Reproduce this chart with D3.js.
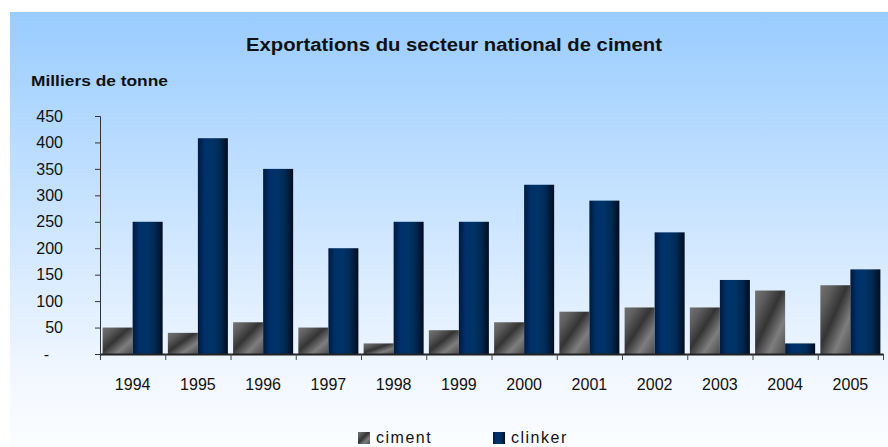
<!DOCTYPE html>
<html><head><meta charset="utf-8">
<script src="https://cdn.jsdelivr.net/npm/d3@7"></script>
<style>
html,body{margin:0;padding:0;background:#fff;}
svg text{font-family:"Liberation Sans",Arial,sans-serif;fill:#111;}
</style></head>
<body><svg id="c" width="888" height="447"></svg>
<script>
const years = ["1994","1995","1996","1997","1998","1999","2000","2001","2002","2003","2004","2005"];
const ciment = [50,40,60,50,20,45,60,80,88,88,120,130];
const clinker = [250,408,350,200,250,250,320,290,230,140,20,160];
const seriesNames = ["ciment","clinker"];
const yTicks = [0,50,100,150,200,250,300,350,400,450];
const yTickLabels = ["-","50","100","150","200","250","300","350","400","450"];
const titleText = "Exportations du secteur national de ciment";
const unitText = "Milliers de tonne";

(function(){
const svg = d3.select("#c");
const defs = svg.append("defs");

const bg = defs.append("linearGradient").attr("id","bg").attr("x1",0).attr("y1",0).attr("x2",0).attr("y2",1);
bg.append("stop").attr("offset",0).attr("stop-color","#99ccff");
bg.append("stop").attr("offset",0.85).attr("stop-color","#f3f8ff");
bg.append("stop").attr("offset",1).attr("stop-color","#fbfdff");

const gC = defs.append("linearGradient").attr("id","gCiment").attr("x1",0).attr("y1",0).attr("x2",1).attr("y2",1);
[[0,"#727272"],[0.2,"#5e5e5e"],[0.45,"#343434"],[0.72,"#7e7e7e"],[1,"#4a4a4a"]].forEach(s=>gC.append("stop").attr("offset",s[0]).attr("stop-color",s[1]));

const gK = defs.append("linearGradient").attr("id","gClinker").attr("x1",0).attr("y1",0).attr("x2",1).attr("y2",0);
[[0,"#001a3d"],[0.22,"#00306a"],[0.5,"#003366"],[0.72,"#002a55"],[1,"#000c1e"]].forEach(s=>gK.append("stop").attr("offset",s[0]).attr("stop-color",s[1]));

const fills = ["url(#gCiment)","url(#gClinker)"];

svg.append("rect").attr("x",10).attr("y",12).attr("width",878).attr("height",435).attr("fill","url(#bg)");

svg.append("text").attr("x",454).attr("y",51).attr("text-anchor","middle")
  .attr("font-size",18).attr("font-weight","bold")
  .attr("textLength",416).attr("lengthAdjust","spacingAndGlyphs").text(titleText);

svg.append("text").attr("x",31).attr("y",86)
  .attr("font-size",15).attr("font-weight","bold")
  .attr("textLength",137).attr("lengthAdjust","spacingAndGlyphs").text(unitText);

const mLeft = 100, mRight = 883, mTop = 116, mBottom = 354;
const y = d3.scaleLinear().domain([0,450]).range([mBottom, mTop]);
const x0 = d3.scaleBand().domain(years).range([mLeft,mRight]).paddingInner(0.08).paddingOuter(0.04);
const x1 = d3.scaleBand().domain(seriesNames).range([0,x0.bandwidth()]).padding(0);
const xb = d3.scaleLinear().domain([0,years.length]).range([mLeft,mRight]);

const data = years.map((yr,i)=>({year:yr, vals:[ciment[i],clinker[i]]}));
const groups = svg.append("g").selectAll("g").data(data).join("g")
  .attr("transform",d=>`translate(${x0(d.year)},0)`);
groups.selectAll("rect").data(d=>d.vals.map((v,j)=>({v,j}))).join("rect")
  .attr("x",d=>x1(seriesNames[d.j])).attr("width",x1.bandwidth())
  .attr("y",d=>y(d.v)).attr("height",d=>y(0)-y(d.v))
  .attr("fill",d=>fills[d.j]);

const yAxis = svg.append("g").attr("transform",`translate(${mLeft},0)`)
  .call(d3.axisLeft(y).tickValues(yTicks).tickFormat((d,i)=>yTickLabels[i]).tickSize(5).tickPadding(32));
yAxis.selectAll("path,line").attr("stroke","#333");
yAxis.selectAll("text").attr("font-size",16).attr("fill","#111").style("font-family","Liberation Sans, Arial, sans-serif")
  .attr("dx",(d)=> d===0 ? -14 : 0);

const xAxisTicks = svg.append("g").attr("transform",`translate(0,${mBottom})`)
  .call(d3.axisBottom(xb).tickValues(d3.range(0,years.length+1)).tickFormat("").tickSize(6).tickSizeOuter(0));
xAxisTicks.select("path").attr("stroke","#222").attr("stroke-width",2);
xAxisTicks.selectAll("line").attr("stroke","#444");

const xAxisLabels = svg.append("g").attr("transform",`translate(0,${mBottom})`)
  .call(d3.axisBottom(x0).tickSize(0).tickPadding(25));
xAxisLabels.select("path").remove();
xAxisLabels.selectAll("text").attr("font-size",16).attr("fill","#111").style("font-family","Liberation Sans, Arial, sans-serif");

const legendX = [358, 493];
const lg = svg.append("g").selectAll("g").data(seriesNames).join("g")
  .attr("transform",(d,i)=>`translate(${legendX[i]},0)`);
lg.append("rect").attr("x",0).attr("y",432).attr("width",12).attr("height",12).attr("fill",(d,i)=>fills[i]);
lg.append("text").attr("x",18).attr("y",443).attr("font-size",16).attr("letter-spacing","1.5px").text(d=>d);
})();
</script></body></html>
